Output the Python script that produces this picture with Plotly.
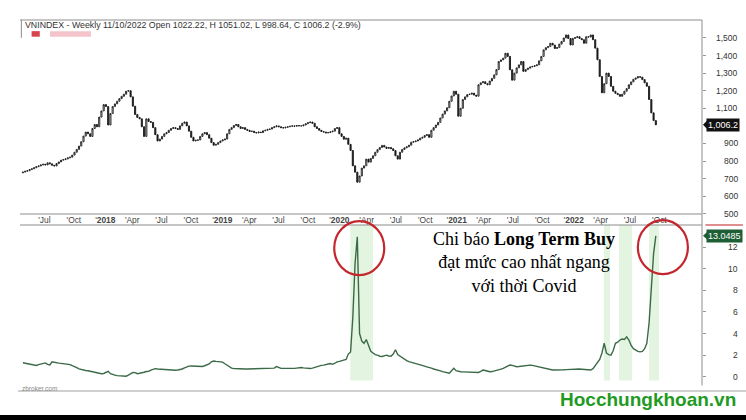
import pandas as pd
import plotly.graph_objects as go
from plotly.subplots import make_subplots

# ---------------- data ----------------
CLOSES = [
    737, 742, 745, 752, 756, 762, 768, 772, 778, 782,
    778, 790, 784, 776, 772, 786, 795, 805, 808, 812,
    818, 822, 834, 850, 866, 885, 910, 942, 965, 955,
    940, 985, 1008, 995, 1050, 1085, 1121, 1110, 1005, 1070,
    1110, 1125, 1140, 1155, 1168, 1180, 1197, 1200, 1165, 1112,
    1065, 1048, 1040, 995, 940, 1040, 1025, 1020, 990, 950,
    914, 925, 940, 955, 962, 975, 985, 990, 985, 980,
    1000, 1015, 1022, 1000, 970, 935, 914, 918, 920, 940,
    955, 962, 950, 930, 905, 890, 895, 905, 914, 920,
    925, 955, 980, 990, 1002, 1008, 995, 985, 990, 980,
    975, 968, 970, 962, 960, 965, 962, 972, 975, 980,
    982, 990, 995, 1000, 995, 990, 988, 992, 995, 998,
    1000, 998, 1002, 1000, 1000, 1005, 1012, 1018, 1022, 1015,
    995, 985, 975, 968, 965, 960, 962, 966, 970, 985,
    990, 955, 940, 924, 930, 895, 860, 773, 737, 680,
    715, 760, 773, 811, 794, 815, 830, 850, 865, 877,
    889, 880, 872, 877, 870, 860, 830, 811, 850, 866,
    875, 881, 890, 907, 910, 914, 920, 930, 935, 945,
    950, 935, 975, 990, 1005, 1020, 1045, 1067, 1085, 1103,
    1140, 1170, 1197, 1180, 1055, 1100, 1150, 1165, 1178, 1180,
    1186, 1175, 1169, 1234, 1245, 1251, 1240, 1234, 1255, 1270,
    1290, 1320, 1366, 1375, 1385, 1413, 1395, 1319, 1260, 1300,
    1330, 1347, 1366, 1310, 1320, 1328, 1335, 1338, 1342, 1347,
    1370, 1395, 1432, 1445, 1451, 1470, 1460, 1440, 1445, 1465,
    1480, 1500, 1517, 1497, 1460, 1497, 1502, 1507, 1497, 1490,
    1470, 1507, 1505, 1517, 1490, 1442, 1376, 1281, 1188, 1240,
    1300, 1281, 1225, 1197, 1185, 1178, 1168, 1180, 1197, 1212,
    1234, 1250, 1265, 1272, 1280, 1277, 1263, 1245, 1225, 1150,
    1074, 1030, 1006.2,
]
FIRST_OPEN = 733

LTB = [
    1.30, 1.25, 1.20, 1.15, 1.08, 1.05, 1.05, 1.12, 1.18, 1.25,
    1.28, 1.15, 1.10, 1.38, 1.32, 1.28, 1.26, 1.24, 1.22, 1.20,
    1.18, 1.12, 1.02, 0.95, 0.85, 0.72, 0.65, 0.62, 0.58, 0.55,
    0.50, 0.45, 0.40, 0.35, 0.30, 0.28, 0.30, 0.42, 0.50, 0.28,
    0.18, 0.15, 0.10, 0.08, 0.05, 0.03, 0.05, 0.15, 0.28, 0.40,
    0.38, 0.28, 0.32, 0.35, 0.42, 0.48, 0.50, 0.62, 0.72, 0.75,
    0.72, 0.70, 0.68, 0.66, 0.64, 0.62, 0.60, 0.58, 0.60, 0.62,
    0.65, 0.72, 0.82, 0.92, 0.98, 1.00, 0.98, 0.95, 0.93, 0.92,
    0.95, 1.02, 1.10, 1.18, 1.38, 1.45, 1.42, 1.40, 1.38, 1.35,
    1.20, 1.05, 0.90, 0.80, 0.76, 0.74, 0.72, 0.72, 0.73, 0.72,
    0.72, 0.73, 0.74, 0.74, 0.75, 0.75, 0.76, 0.76, 0.77, 0.77,
    0.78, 0.78, 0.80, 0.95, 0.85, 0.78, 0.77, 0.76, 0.76, 0.75,
    0.76, 0.77, 0.80, 0.84, 0.85, 0.82, 0.78, 0.75, 0.76, 0.80,
    0.88, 0.96, 1.00, 1.05, 1.08, 1.10, 1.18, 1.22, 1.15, 1.25,
    1.38, 1.42, 1.50, 1.55, 1.60, 2.10, 2.30, 5.50, 10.50, 12.96,
    4.00, 3.30, 3.10, 3.45, 2.80, 2.35, 2.20, 2.05, 2.00, 1.90,
    1.88, 1.95, 2.00, 1.92, 1.90, 2.10, 2.50, 2.05, 1.90, 1.75,
    1.65, 1.50, 1.40, 1.35, 1.28, 1.22, 1.15, 1.10, 1.05, 0.98,
    0.92, 0.88, 0.80, 0.72, 0.68, 0.62, 0.55, 0.48, 0.42, 0.38,
    0.32, 0.55, 0.78, 0.56, 0.48, 0.46, 0.45, 0.44, 0.40, 0.38,
    0.38, 0.37, 0.36, 0.40, 0.50, 0.62, 0.58, 0.50, 0.46, 0.48,
    0.52, 0.55, 0.60, 0.70, 0.78, 0.88, 1.00, 1.08, 1.05, 0.98,
    0.93, 0.95, 0.98, 1.00, 1.02, 1.05, 1.08, 1.05, 1.00, 0.95,
    0.88, 0.82, 0.78, 0.72, 0.66, 0.62, 0.62, 0.63, 0.62, 0.62,
    0.63, 0.65, 0.66, 0.68, 0.70, 0.68, 0.68, 0.70, 0.71, 0.70,
    0.68, 0.65, 0.62, 0.62, 0.75, 1.00, 1.25, 1.60, 2.20, 3.10,
    2.20, 2.05, 2.00, 2.40, 3.10, 3.20, 3.40, 3.50, 3.45, 3.70,
    3.40, 2.90, 2.60, 2.45, 2.35, 2.30, 2.35, 2.60, 3.10, 5.00,
    8.50, 11.40, 13.0485,
]
LAST_BAR = "2022-10-10"

TICK_DATES = [
    "2017-07-01", "2017-10-01",
    "2018-01-01", "2018-04-01", "2018-07-01", "2018-10-01",
    "2019-01-01", "2019-04-01", "2019-07-01", "2019-10-01",
    "2020-01-01", "2020-04-01", "2020-07-01", "2020-10-01",
    "2021-01-01", "2021-04-01", "2021-07-01", "2021-10-01",
    "2022-01-01", "2022-04-01", "2022-07-01", "2022-10-01",
]
TICK_LABELS = [
    "'Jul", "'Oct",
    "'<b>2018</b>", "'Apr", "'Jul", "'Oct",
    "'<b>2019</b>", "'Apr", "'Jul", "'Oct",
    "'<b>2020</b>", "'Apr", "'Jul", "'Oct",
    "'<b>2021</b>", "'Apr", "'Jul", "'Oct",
    "'<b>2022</b>", "'Apr", "'Jul", "'Oct",
]
# 1,000 is hidden behind the last-price tag in the reference
PRICE_TICKS = [500, 600, 700, 800, 900, 1100, 1200, 1300, 1400, 1500]
LTB_TICKS = [0, 2, 4, 6, 8, 10, 12]
SHADE_BANDS = [
    ("2020-03-01", "2020-05-11"),
    ("2022-05-01", "2022-05-20"),
    ("2022-06-17", "2022-07-28"),
    ("2022-09-19", "2022-10-20"),
]
TITLE = "VNINDEX - Weekly 11/10/2022 Open 1022.22, H 1051.02, L 998.64, C 1006.2 (-2.9%)"

# ---------------- build ----------------
dates = pd.date_range(end=LAST_BAR, periods=len(CLOSES), freq="W-MON")
opens = [FIRST_OPEN] + CLOSES[:-1]
highs = [max(o, c) for o, c in zip(opens, CLOSES)]
lows = [min(o, c) for o, c in zip(opens, CLOSES)]

X_RANGE = ["2017-05-06", "2023-03-03"]
P_RANGE = [499, 1602]
L_RANGE = [-1.32, 14.05]
TOP_DOM = [0.4771, 1.0]
BOT_DOM = [0.0, 0.4474]
LABEL_X = 1.0557   # right edge of the right-aligned axis numbers (paper units)

def l2paper(v):
    return BOT_DOM[0] + (BOT_DOM[1] - BOT_DOM[0]) * (v - L_RANGE[0]) / (L_RANGE[1] - L_RANGE[0])

fig = make_subplots(rows=2, cols=1, shared_xaxes=True)

fig.add_trace(go.Candlestick(
    x=dates, open=opens, high=highs, low=lows, close=CLOSES,
    increasing=dict(line=dict(color="#1a1a1a", width=0.9), fillcolor="white"),
    decreasing=dict(line=dict(color="#1a1a1a", width=0.9), fillcolor="#1a1a1a"),
    whiskerwidth=0, showlegend=False, hoverinfo="skip"), row=1, col=1)

fig.add_trace(go.Scatter(
    x=dates, y=LTB, mode="lines",
    line=dict(color="#3b6a47", width=1.4), showlegend=False, hoverinfo="skip"),
    row=2, col=1)

tick_pos = [pd.Timestamp(d) + pd.Timedelta(days=(26 if "<b>" in t else 20))
            for d, t in zip(TICK_DATES, TICK_LABELS)]

fig.update_layout(
    width=746, height=420,
    margin=dict(l=20, r=44, t=20, b=29),
    paper_bgcolor="white", plot_bgcolor="white",
    showlegend=False,
    font=dict(family="Liberation Sans, Arial, sans-serif", size=9, color="#333"),
    xaxis=dict(range=X_RANGE, rangeslider=dict(visible=False), showgrid=False,
               zeroline=False, showline=False, ticks="",
               tickvals=tick_pos, ticktext=TICK_LABELS, showticklabels=True,
               tickfont=dict(size=8.4, color="#444")),
    xaxis2=dict(range=X_RANGE, showgrid=False, zeroline=False, showline=False,
                showticklabels=False, ticks=""),
    yaxis=dict(domain=TOP_DOM, range=P_RANGE, side="right", tickvals=PRICE_TICKS,
               ticks="outside", ticklen=3, tickcolor="#999", showticklabels=False,
               showgrid=False, zeroline=False, showline=False),
    yaxis2=dict(domain=BOT_DOM, range=L_RANGE, side="right", tickvals=LTB_TICKS,
                ticks="outside", ticklen=3, tickcolor="#999", showticklabels=False,
                showgrid=False, zeroline=False, showline=False),
)

# right-aligned axis numbers
for v in PRICE_TICKS:
    fig.add_annotation(xref="paper", yref="y", x=LABEL_X, y=v, xanchor="right",
                       yanchor="middle", text=f"{v:,}", showarrow=False,
                       font=dict(size=8.5, color="#333"))
for v in LTB_TICKS:
    fig.add_annotation(xref="paper", yref="y2", x=LABEL_X, y=v, xanchor="right",
                       yanchor="middle", text=f"{v}", showarrow=False,
                       font=dict(size=8.5, color="#333"))

# shaded zones in the indicator panel
for a, b in SHADE_BANDS:
    fig.add_shape(type="rect", xref="x2", yref="y2", x0=a, x1=b,
                  y0=-0.35, y1=L_RANGE[1], fillcolor="#e3f5e0", line_width=0,
                  layer="below")

# frame lines
grey = "#8c8c8c"
for yp in [1.0, TOP_DOM[0], BOT_DOM[1]]:
    fig.add_shape(type="line", xref="paper", yref="paper", x0=0, x1=1,
                  y0=yp, y1=yp, line=dict(color=grey, width=1))
fig.add_shape(type="line", xref="paper", yref="paper", x0=-0.003, x1=1.065,
              y0=0, y1=0, line=dict(color="#a0a0a0", width=1))
fig.add_shape(type="line", xref="paper", yref="paper", x0=1, x1=1,
              y0=0.015, y1=1, line=dict(color=grey, width=1))
fig.add_shape(type="line", xref="paper", yref="paper", x0=0.002, x1=0.002,
              y0=0.952, y1=1, line=dict(color=grey, width=1))
fig.add_shape(type="line", xref="paper", yref="paper", x0=1.005, x1=1.06,
              y0=BOT_DOM[1], y1=BOT_DOM[1], line=dict(color="#d46a6a", width=1.5))

# blurred legend swatches under the title
fig.add_shape(type="rect", xref="paper", yref="paper", x0=0.017, x1=0.029,
              y0=0.955, y1=0.970, fillcolor="#d9434e", line_width=0)
fig.add_shape(type="rect", xref="paper", yref="paper", x0=0.044, x1=0.104,
              y0=0.955, y1=0.970, fillcolor="#f3c4ca", line_width=0)

# bottom black strip
fig.add_shape(type="rect", xref="paper", yref="paper", x0=-0.04, x1=1.08,
              y0=-0.083, y1=-0.0647, fillcolor="black", line_width=0)

# red circles around the two peaks
i_covid = max(range(len(LTB) // 2, len(LTB) * 2 // 3), key=lambda i: LTB[i])
i_now = len(LTB) - 1
for idx, shift_days in [(i_covid, 6), (i_now, 22)]:
    cx = dates[idx] + pd.Timedelta(days=shift_days)
    cy = LTB[idx] - 1.05
    fig.add_shape(type="circle", xref="x2", yref="paper",
                  x0=cx - pd.Timedelta(days=78), x1=cx + pd.Timedelta(days=78),
                  y0=l2paper(cy - 2.5), y1=l2paper(cy + 2.5),
                  line=dict(color="#c4262e", width=2.2))

# last value tags
fig.add_annotation(xref="paper", yref="y", x=1.0065, y=CLOSES[-1], xanchor="left",
                   yanchor="middle", text=f"{CLOSES[-1]:,.1f}", showarrow=False,
                   bgcolor="#111", font=dict(color="white", size=9), borderpad=1)
fig.add_shape(type="path", xref="paper", yref="y",
              path=f"M 1.0015 {CLOSES[-1]} L 1.0075 {CLOSES[-1] + 24} L 1.0075 {CLOSES[-1] - 24} Z",
              fillcolor="#111", line_width=0)
fig.add_annotation(xref="paper", yref="y2", x=1.0065, y=LTB[-1], xanchor="left",
                   yanchor="middle", text=f"{LTB[-1]:.4f}", showarrow=False,
                   bgcolor="#1d5e34", font=dict(color="white", size=9), borderpad=1)
fig.add_shape(type="path", xref="paper", yref="y2",
              path=f"M 1.0015 {LTB[-1]} L 1.0075 {LTB[-1] + 0.35} L 1.0075 {LTB[-1] - 0.35} Z",
              fillcolor="#1d5e34", line_width=0)

# texts
fig.add_annotation(xref="paper", yref="paper", x=0.004, y=0.9865, xanchor="left",
                   yanchor="middle", text=TITLE, showarrow=False,
                   font=dict(size=8.8, color="#333"))
fig.add_annotation(xref="paper", yref="paper", x=0.0, y=0.008, xanchor="left",
                   yanchor="middle", text="zbroker.com", showarrow=False,
                   font=dict(size=6.5, color="#888"))
fig.add_annotation(xref="paper", yref="paper", x=0.7385, y=0.3477, xanchor="center",
                   yanchor="middle", align="center",
                   text="Chi báo <b>Long Term Buy</b><br>đạt mức cao nhất ngang<br>với thời Covid",
                   showarrow=False,
                   font=dict(family="Liberation Serif, Times New Roman, serif", size=18, color="black"))
fig.add_annotation(xref="paper", yref="paper", x=0.921, y=-0.024, xanchor="center",
                   yanchor="middle", text="<b>Hocchungkhoan.vn</b>", showarrow=False,
                   font=dict(family="Liberation Sans, Arial, sans-serif", size=19, color="#1f9a23"))

# remove the browser's default 8px page margin so the figure sits at (0,0)
fig.write_html("out.html", config={"displayModeBar": False},
               post_script="document.body.style.margin='0px';")
